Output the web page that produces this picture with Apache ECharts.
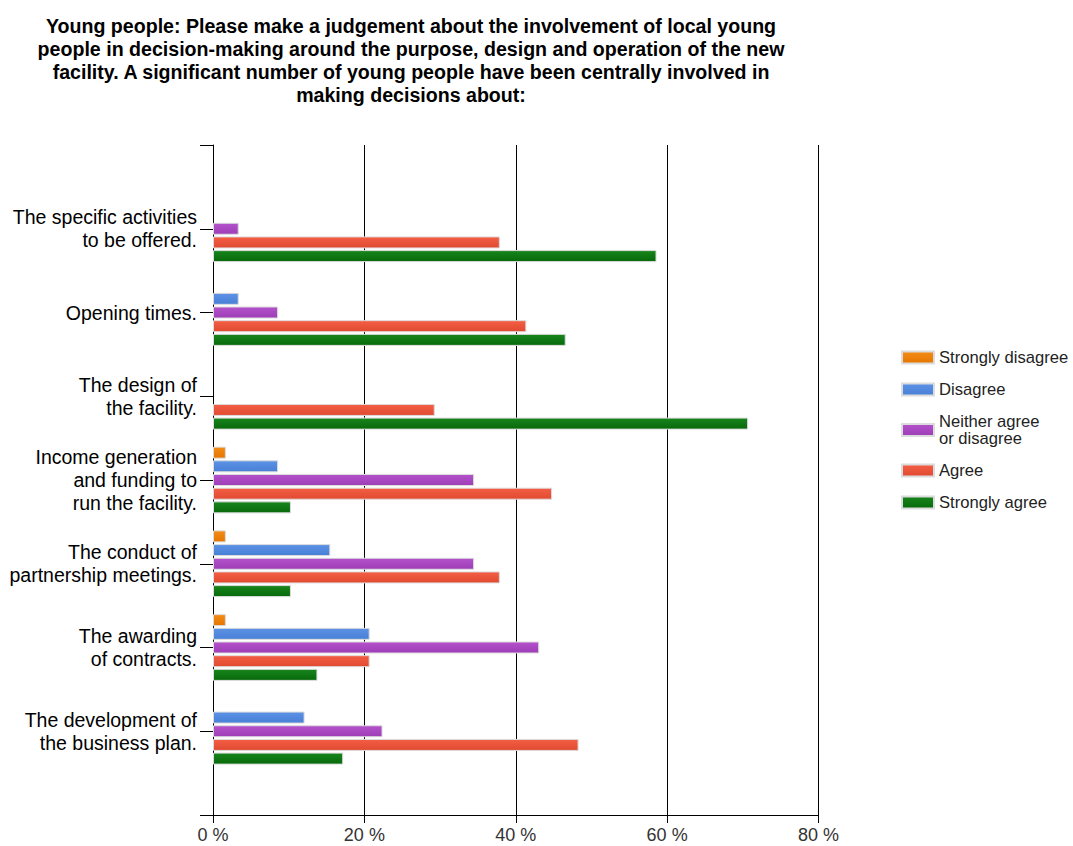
<!DOCTYPE html>
<html>
<head>
<meta charset="utf-8">
<script src="https://cdn.jsdelivr.net/npm/echarts@6/dist/echarts.min.js"></script>
<style>
  html, body { margin: 0; padding: 0; background: #fff; }
  #chart { width: 1073px; height: 846px; }
</style>
</head>
<body>
<div id="chart"></div>
<script>
// Survey statements (one row per statement, top to bottom)
const categories = [
  'The specific activities\nto be offered.',
  'Opening times.',
  'The design of\nthe facility.',
  'Income generation\nand funding to\nrun the facility.',
  'The conduct of\npartnership meetings.',
  'The awarding\nof contracts.',
  'The development of\nthe business plan.'
];

// Share of respondents (%) per answer
const stronglyDisagree = [0, 0, 0, 1.7, 1.7, 1.7, 0];
const disagree         = [0, 3.4, 0, 8.6, 15.5, 20.7, 12.1];
const neither          = [3.4, 8.6, 0, 34.5, 34.5, 43.1, 22.4];
const agree            = [37.9, 41.4, 29.3, 44.8, 37.9, 20.7, 48.3];
const stronglyAgree    = [58.6, 46.6, 70.7, 10.3, 10.3, 13.8, 17.2];

const xTicks = { min: 0, max: 80, step: 20 };

const seriesDefs = [
  { name: 'Strongly disagree', data: stronglyDisagree, top: '#f48c18', bottom: '#e47600' },
  { name: 'Disagree', data: disagree, top: '#5c92e6', bottom: '#4880d6' },
  { name: 'Neither agree\nor disagree', data: neither, top: '#b352ca', bottom: '#9e3eb6' },
  { name: 'Agree', data: agree, top: '#f45e44', bottom: '#e04a31' },
  { name: 'Strongly agree', data: stronglyAgree, top: '#17851c', bottom: '#08690b' }
];

// Empty slots above and below so each statement sits on an interior tick
const yData = [''].concat(categories, ['']);
const pad = arr => ['-'].concat(arr.map(v => (v === 0 ? '-' : v)), ['-']);

const chart = echarts.init(document.getElementById('chart'), null, { renderer: 'svg' });

chart.setOption({
  animation: false,
  backgroundColor: '#ffffff',
  textStyle: { fontFamily: '"Liberation Sans", Arial, sans-serif' },
  title: {
    text: 'Young people: Please make a judgement about the involvement of local young\n' +
          'people in decision-making around the purpose, design and operation of the new\n' +
          'facility. A significant number of young people have been centrally involved in\n' +
          'making decisions about:',
    left: 406,
    top: 9,
    textAlign: 'center',
    textStyle: {
      fontFamily: '"Liberation Sans", Arial, sans-serif',
      fontSize: 19.6,
      fontWeight: 'bold',
      color: '#000',
      lineHeight: 23
    }
  },
  legend: {
    orient: 'vertical',
    left: 901,
    top: 349,
    padding: 0,
    icon: 'rect',
    itemWidth: 32,
    itemHeight: 12,
    itemGap: 15,
    itemTextGap: 7,
    textStyle: { fontSize: 16.6, lineHeight: 17, color: '#222' },
    data: seriesDefs.map(s => s.name)
  },
  grid: { left: 213, top: 145, width: 605.5, height: 670, containLabel: false },
  xAxis: {
    type: 'value',
    min: xTicks.min,
    max: xTicks.max,
    interval: xTicks.step,
    axisLine: { show: true, lineStyle: { color: '#000', width: 1 } },
    axisTick: { show: true, length: 8, lineStyle: { color: '#000' } },
    splitLine: { show: true, lineStyle: { color: '#000', width: 1 } },
    axisLabel: {
      formatter: '{value} %',
      fontSize: 18,
      color: '#333',
      margin: 11
    }
  },
  yAxis: {
    type: 'category',
    data: yData,
    inverse: true,
    boundaryGap: false,
    axisLine: { show: true, lineStyle: { color: '#000', width: 1 } },
    axisTick: { show: true, length: 13, lineStyle: { color: '#000' } },
    splitLine: { show: false },
    axisLabel: {
      fontSize: 19.5,
      lineHeight: 23,
      color: '#000',
      margin: 16,
      align: 'right'
    }
  },
  series: seriesDefs.map(s => ({
    type: 'bar',
    name: s.name,
    data: pad(s.data),
    barWidth: 12,
    barGap: '14%',
    itemStyle: {
      color: new echarts.graphic.LinearGradient(0, 0, 0, 1, [
        { offset: 0, color: s.top },
        { offset: 1, color: s.bottom }
      ]),
      borderColor: '#dcdcdc',
      borderWidth: 1
    },
    emphasis: { disabled: true }
  }))
});
</script>
</body>
</html>
